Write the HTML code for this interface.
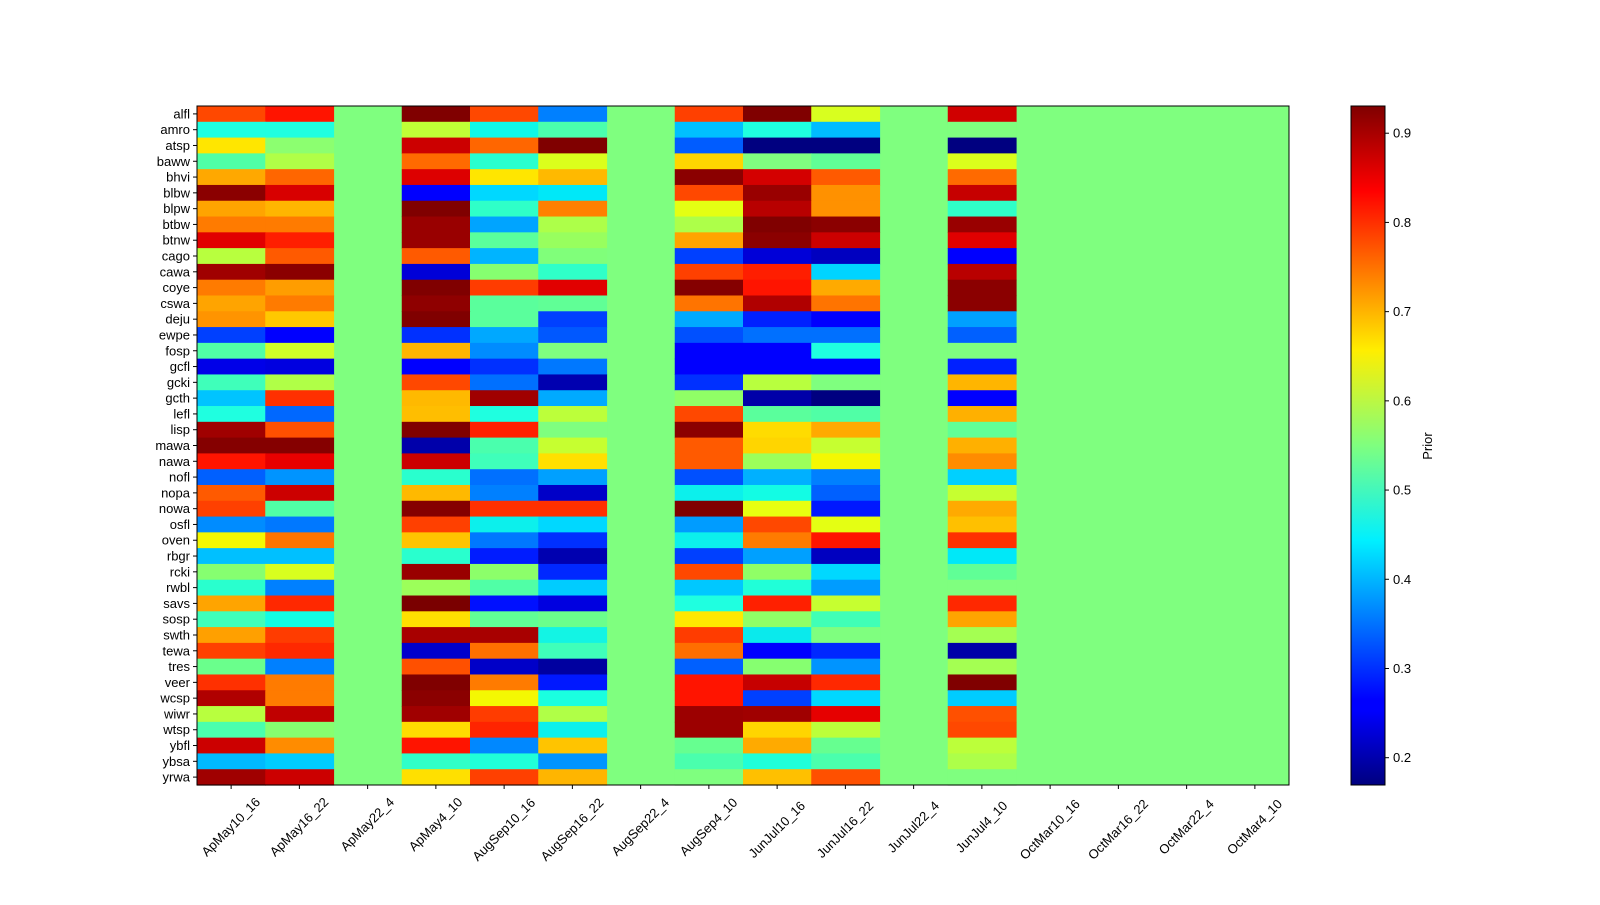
<!DOCTYPE html>
<html><head><meta charset="utf-8"><style>
body{margin:0;background:#fff}
svg text{font-family:"Liberation Sans","DejaVu Sans",sans-serif;font-size:13px;fill:#000}
</style></head><body>
<svg id="s" width="1600" height="900" xmlns="http://www.w3.org/2000/svg">
<defs><linearGradient id="jet" x1="0" y1="1" x2="0" y2="0">
<stop offset="0" stop-color="#00007f"/><stop offset="0.11" stop-color="#0000ff"/><stop offset="0.125" stop-color="#0000ff"/><stop offset="0.36" stop-color="#00f0ff"/><stop offset="0.5" stop-color="#7fff7f"/><stop offset="0.64" stop-color="#ffee00"/><stop offset="0.875" stop-color="#ff0000"/><stop offset="1" stop-color="#7f0000"/>
</linearGradient></defs>
<g id="g"></g>
</svg>
<script>
var G="#7fff7f";
var names="alfl amro atsp baww bhvi blbw blpw btbw btnw cago cawa coye cswa deju ewpe fosp gcfl gcki gcth lefl lisp mawa nawa nofl nopa nowa osfl oven rbgr rcki rwbl savs sosp swth tewa tres veer wcsp wiwr wtsp ybfl ybsa yrwa".split(" ");
var D=[
["#ff4800","#ff1400","#800000","#ff4800","#0080ff","#ff4000","#800000","#d8ff1f","#d00000"],
["#1fffe0","#1fffe0","#c0ff36","#0ff8e8","#4affad","#00c0ff","#1fffe0","#00bcff",G],
["#ffe600","#8cff70","#cc0000","#ff6600","#800000","#005cff","#000080","#000080","#000080"],
["#50ffa6","#b0ff47","#ff6a00","#29ffce","#dbff1c","#ffd500","#80ff80","#60ff96","#dbff1c"],
["#ffa800","#ff6600","#dd0000","#ffe600","#ffb900","#8b0000","#d40000","#ff5a00","#ff6a00"],
["#8b0000","#d80000","#0000ff","#00d8ff","#00e8f8","#ff4800","#990000","#ff9100","#c60000"],
["#ffa400","#ffb500","#800000","#2fffc8","#ff8000","#e4ff13","#b80000","#ff9100","#2fffc8"],
["#ff7b00","#ff7b00","#990000","#00a4ff","#adff49","#adff49","#800000","#8b0000","#990000"],
["#e10000","#ff1e00","#990000","#5aff9c","#98ff5e","#ffa400","#8b0000","#cc0000","#e10000"],
["#b8ff3e","#ff5a00","#ff5a00","#00b4ff","#80ff7a","#0040ff","#0000d8","#0000c0","#0000ff"],
["#a00000","#8b0000","#0000d8","#86ff70","#2fffc8","#ff4000","#ff1e00","#00d4ff","#b90000"],
["#ff7b00","#ff9d00","#800000","#ff3c00","#e10000","#850000","#ff1400","#ffaa00","#8b0000"],
["#ffa400","#ff7b00","#8f0000","#5aff9c","#60ff96","#ff7400","#b00000","#ff7400","#8b0000"],
["#ff9400","#ffc800","#800000","#5aff9c","#0040ff","#00aaff","#0020ff","#0000ff","#00a0ff"],
["#0040ff","#0000ff","#0030ff","#00a8ff","#0058ff","#0050ff","#0070ff","#0070ff","#0060ff"],
["#50ffa6","#d0ff27","#ffb500","#008cff",G,"#0000ff","#0000ff","#1fffe0",G],
["#0000e8","#0000e0","#0000ff","#0030ff","#0078ff","#0000ff","#0000ff","#0000ff","#0020ff"],
["#3fffba","#b0ff47","#ff4800","#0070ff","#0000b0","#0030ff","#b8ff3e",G,"#ffb500"],
["#00c4ff","#ff3000","#ffb900","#a00000","#00aaff","#90ff66","#0000a8","#000080","#0000ff"],
["#1fffe0","#0068ff","#ffbe00","#1fffe0","#bcff3a","#ff4800","#5aff9c","#50ffa6","#ffb000"],
["#a00000","#ff5000","#800000","#ff2000",G,"#8b0000","#ffdc00","#ffaa00","#60ff96"],
["#850000","#850000","#0000aa","#4affad","#c6ff30","#ff5a00","#ffd500","#c6ff30","#ffb000"],
["#ff1400","#e80000","#cc0000","#3fffba","#ffe000","#ff5a00","#9cff5a","#f4f802","#ff8c00"],
["#0060ff","#0094ff","#29ffce","#0070ff","#00a0ff","#0050ff","#00b0ff","#0080ff","#00d0ff"],
["#ff5a00","#cc0000","#ffb900","#0080ff","#0000c8","#0cf0ec","#13fce4","#0060ff","#c6ff30"],
["#ff4000","#50ffa6","#850000","#ff3000","#ff3000","#800000","#e8ff10","#0018ff","#ffaa00"],
["#008cff","#0078ff","#ff4000","#0cf0ec","#00d8ff","#009cff","#ff4800","#e4ff13","#ffc000"],
["#f4f802","#ff7400","#ffc400","#0078ff","#0030ff","#0cf0ec","#ff7b00","#ff1400","#ff3000"],
["#00c0ff","#00c0ff","#29ffce","#001cff","#0000b0","#0040ff","#00a0ff","#0000c0","#00e8f8"],
["#86ff70","#d8ff1f","#990000","#8cff6a","#0028ff","#ff4800","#90ff66","#00d8ff","#60ff96"],
["#29ffce","#0080ff","#9cff5a","#50ffa6","#00ccff","#00c8ff","#20ffd8","#009cff",G],
["#ffa400","#ff2800","#7a0000","#0010ff","#0000e0","#1fffe0","#ff2000","#c6ff30","#ff2800"],
["#3fffba","#13fce4","#ffe000","#60ff96","#6aff8c","#ffe800","#90ff66","#40ffb6","#ffa400"],
["#ffa000","#ff3c00","#a80000","#a80000","#13f4e4","#ff3c00","#0aeaec",G,"#a4ff52"],
["#ff4000","#ff2800","#0000cc","#ff7000","#3fffba","#ff6e00","#0000ff","#0028ff","#0000a8"],
["#6aff8c","#0080ff","#ff5000","#0000c8","#0000a0","#0060ff","#86ff70","#0094ff","#a4ff52"],
["#ff3000","#ff7b00","#800000","#ff7b00","#0018ff","#ff1400","#c60000","#ff2800","#800000"],
["#b00000","#ff7b00","#8b0000","#f4f802","#1affe0","#ff1400","#0040ff","#00d8ff","#00ccff"],
["#b8ff3e","#c00000","#a00000","#ff3c00","#b0ff47","#9c0000","#a00000","#e60000","#ff5000"],
["#4affad","#86ff70","#ffdc00","#ff2400","#0cf0ec","#9c0000","#ffd500","#bcff3a","#ff4800"],
["#cc0000","#ff8c00","#ff1400","#0088ff","#ffc400","#66ff90","#ffaa00","#66ff90","#bcff3a"],
["#00baff","#00ccff","#2fffc8","#20ffd8","#0094ff","#4affad","#20ffd8","#4affad","#adff49"],
["#a00000","#cc0000","#ffe000","#ff4000","#ffb500",G,"#ffc000","#ff5000",G]
];
var cols=[0,1,3,4,5,7,8,9,11];
var xl="ApMay10_16 ApMay16_22 ApMay22_4 ApMay4_10 AugSep10_16 AugSep16_22 AugSep22_4 AugSep4_10 JunJul10_16 JunJul16_22 JunJul22_4 JunJul4_10 OctMar10_16 OctMar16_22 OctMar22_4 OctMar4_10".split(" ");
var X0=197,X1=1289,Y0=106,Y1=785,cw=(X1-X0)/16,rh=(Y1-Y0)/43;
var h='<rect x="'+X0+'" y="'+Y0+'" width="'+(X1-X0)+'" height="'+(Y1-Y0)+'" fill="'+G+'"/>';
for(var r=0;r<43;r++){for(var k=0;k<9;k++){var c=cols[k];
h+='<rect x="'+(X0+c*cw).toFixed(2)+'" y="'+(Y0+r*rh).toFixed(2)+'" width="'+(cw+0.6).toFixed(2)+'" height="'+(rh+0.6).toFixed(2)+'" fill="'+D[r][k]+'"/>';}
var y=Y0+(r+0.5)*rh;
h+='<line x1="'+(X0-4)+'" x2="'+X0+'" y1="'+y+'" y2="'+y+'" stroke="#000"/>';
h+='<text x="'+(X0-7)+'" y="'+(y+4.5)+'" text-anchor="end">'+names[r]+'</text>';}
for(var i=0;i<16;i++){var x=X0+(i+0.5)*cw;var L=xl[i].length*7.4;
h+='<line x1="'+x+'" x2="'+x+'" y1="'+Y1+'" y2="'+(Y1+4)+'" stroke="#000"/>';
var cy=797+L*0.354+4;
h+='<text x="'+x+'" y="'+(cy+4)+'" text-anchor="middle" transform="rotate(-45 '+x+' '+cy+')">'+xl[i]+'</text>';}
h+='<rect x="'+X0+'" y="'+Y0+'" width="'+(X1-X0)+'" height="'+(Y1-Y0)+'" fill="none" stroke="#000"/>';
var cx0=1351,cx1=1385;
h+='<rect x="'+cx0+'" y="'+Y0+'" width="'+(cx1-cx0)+'" height="'+(Y1-Y0)+'" fill="url(#jet)" stroke="#000"/>';
for(var v=2;v<=9;v++){var yy=Y1-(v/10-0.1694)/(0.9305-0.1694)*(Y1-Y0);
h+='<line x1="'+cx1+'" x2="'+(cx1+4)+'" y1="'+yy+'" y2="'+yy+'" stroke="#000"/>';
h+='<text x="'+(cx1+8)+'" y="'+(yy+4.5)+'">0.'+v+'</text>';}
h+='<text x="1432" y="446" text-anchor="middle" transform="rotate(-90 1432 446)">Prior</text>';
document.getElementById("g").innerHTML=h;
</script>
</body></html>
